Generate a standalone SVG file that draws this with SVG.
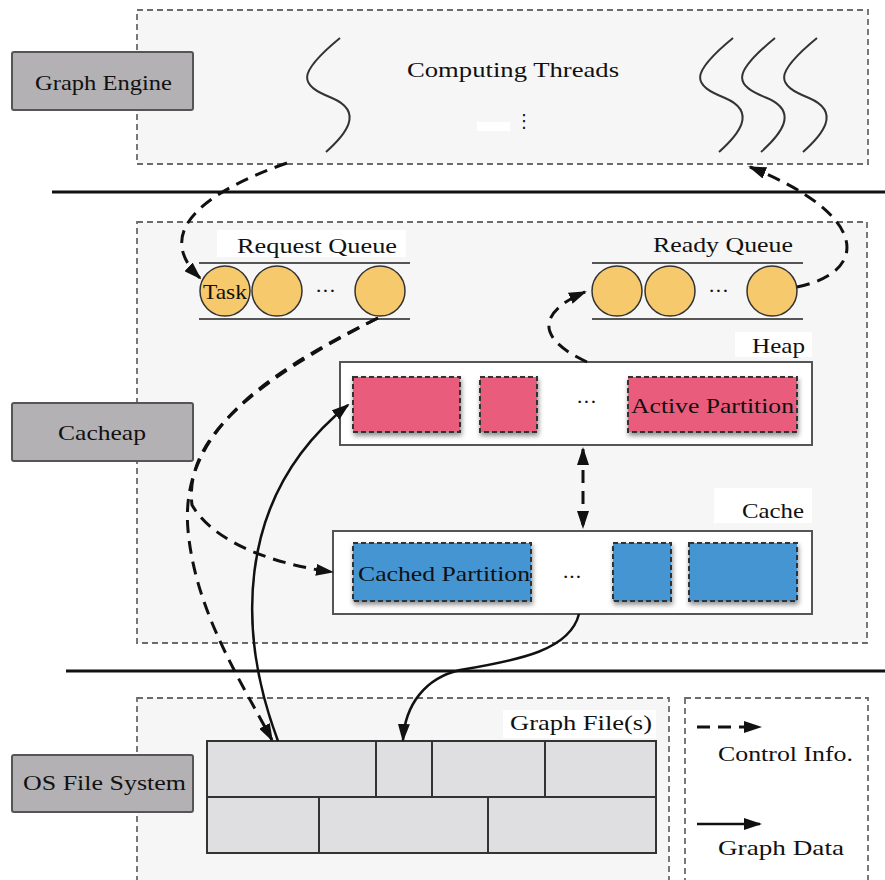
<svg xmlns="http://www.w3.org/2000/svg" width="885" height="880" viewBox="0 0 885 880">
<defs>
<style>
.zone{fill:#f7f6f6;stroke:#6b6b6b;stroke-width:1.8;stroke-dasharray:6 4}
.lbl{fill:#b3b1b3;stroke:#555;stroke-width:2}
.t{font-family:"Liberation Serif",serif;font-size:22px;fill:#111}
.q{stroke:#555;stroke-width:2}
.c{fill:#f6c96c;stroke:#333;stroke-width:1.5}
.box{fill:#fff;stroke:#555;stroke-width:2}
.pk{fill:#e95b7c;stroke:#333;stroke-width:2;stroke-dasharray:5 3}
.bl{fill:#4595d2;stroke:#333;stroke-width:2;stroke-dasharray:5 3}
.br{fill:#dfdfe1;stroke:#333;stroke-width:2}
.thr{fill:none;stroke:#333;stroke-width:2}
.ctl{fill:none;stroke:#111;stroke-width:3;stroke-dasharray:13 8}
.dat{fill:none;stroke:#111;stroke-width:2.5}
.sep{stroke:#111;stroke-width:3}
</style>
<marker id="ah" markerWidth="18" markerHeight="12" refX="16" refY="6" orient="auto-start-reverse" markerUnits="userSpaceOnUse"><path d="M0,0 L18,6 L0,12 Z" fill="#111"/></marker>
<filter id="sh" x="-10%" y="-15%" width="130%" height="150%"><feDropShadow dx="1" dy="3" stdDeviation="2.5" flood-color="#000" flood-opacity="0.45"/></filter>
<path id="thread" d="M 0 0 C -45 37, -40 47, -8 60 C 25 74, 5 97, -14 114" class="thr"/>
</defs>

<rect width="885" height="880" fill="#fff"/>

<g id="graph-engine">
<rect class="zone" x="137" y="10" width="731" height="154"/>
<use href="#thread" x="340" y="38"/>
<use href="#thread" x="733" y="38"/>
<use href="#thread" x="775" y="38"/>
<use href="#thread" x="817" y="38"/>
<text class="t" x="407" y="77" textLength="212" lengthAdjust="spacingAndGlyphs">Computing Threads</text>
<rect x="477" y="122" width="33" height="9" fill="#fff"/>
<text x="524" y="127" font-family="DejaVu Sans,sans-serif" font-size="18" fill="#111" text-anchor="middle">⋮</text>
<rect class="lbl" x="12" y="52" width="181" height="58" rx="2"/>
<text class="t" x="35" y="90" textLength="137" lengthAdjust="spacingAndGlyphs">Graph Engine</text>
</g>

<line class="sep" x1="52" y1="192" x2="885" y2="192"/>
<line class="sep" x1="66" y1="671" x2="885" y2="671"/>

<g id="cacheap">
<rect class="zone" x="137" y="222" width="730" height="421"/>
<rect class="lbl" x="12" y="403" width="181" height="58" rx="2"/>
<text class="t" x="58" y="440" textLength="88" lengthAdjust="spacingAndGlyphs">Cacheap</text>
</g>

<g id="request-queue">
<rect x="217" y="230" width="189" height="27" fill="#fff"/>
<text class="t" x="237" y="253" textLength="160" lengthAdjust="spacingAndGlyphs">Request Queue</text>
<line class="q" x1="199" y1="263" x2="410" y2="263"/>
<line class="q" x1="199" y1="319" x2="410" y2="319"/>
<circle class="c" cx="225" cy="291" r="25"/>
<circle class="c" cx="277" cy="291" r="25"/>
<circle class="c" cx="380" cy="291" r="25"/>
<text class="t" x="315" y="298" textLength="21" lengthAdjust="spacing">···</text>
<text class="t" x="203" y="299" textLength="44" lengthAdjust="spacingAndGlyphs">Task</text>
</g>

<g id="ready-queue">
<text class="t" x="653" y="252" textLength="140" lengthAdjust="spacingAndGlyphs">Ready Queue</text>
<line class="q" x1="592" y1="263" x2="803" y2="263"/>
<line class="q" x1="592" y1="319" x2="803" y2="319"/>
<circle class="c" cx="617" cy="291" r="25"/>
<circle class="c" cx="670" cy="291" r="25"/>
<circle class="c" cx="772" cy="291" r="25"/>
<text class="t" x="708" y="298" textLength="21" lengthAdjust="spacing">···</text>
</g>

<g id="heap">
<rect x="735" y="332" width="77" height="25" fill="#fff"/>
<text class="t" x="752" y="353" textLength="53" lengthAdjust="spacingAndGlyphs">Heap</text>
<rect class="box" x="340" y="362" width="472" height="83"/>
<rect class="pk" x="353" y="377" width="107" height="55" filter="url(#sh)"/>
<rect class="pk" x="480" y="377" width="57" height="55" filter="url(#sh)"/>
<text class="t" x="576" y="409" textLength="21" lengthAdjust="spacing">···</text>
<rect class="pk" x="628" y="377" width="169" height="55" filter="url(#sh)"/>
<text class="t" x="631" y="413" textLength="163" lengthAdjust="spacingAndGlyphs">Active Partition</text>
</g>

<g id="cache">
<rect x="714" y="488" width="98" height="35" fill="#fff"/>
<text class="t" x="742" y="518" textLength="62" lengthAdjust="spacingAndGlyphs">Cache</text>
<rect class="box" x="333" y="531" width="479" height="83"/>
<rect class="bl" x="353" y="543" width="178" height="58" filter="url(#sh)"/>
<text class="t" x="358" y="581" textLength="172" lengthAdjust="spacingAndGlyphs">Cached Partition</text>
<text class="t" x="562" y="584" textLength="20" lengthAdjust="spacing">···</text>
<rect class="bl" x="613" y="543" width="58" height="58" filter="url(#sh)"/>
<rect class="bl" x="689" y="543" width="108" height="58" filter="url(#sh)"/>
</g>

<g id="os-file-system">
<rect class="zone" x="137" y="698" width="532" height="200"/>
<rect x="503" y="710" width="153" height="28" fill="#fff"/>
<text class="t" x="510" y="730" textLength="142" lengthAdjust="spacingAndGlyphs">Graph File(s)</text>
<rect class="br" x="207" y="741" width="449" height="56"/>
<rect class="br" x="207" y="797" width="449" height="56"/>
<line class="br" x1="376" y1="741" x2="376" y2="797"/>
<line class="br" x1="432" y1="741" x2="432" y2="797"/>
<line class="br" x1="545" y1="741" x2="545" y2="797"/>
<line class="br" x1="319" y1="797" x2="319" y2="853"/>
<line class="br" x1="488" y1="797" x2="488" y2="853"/>
<rect class="lbl" x="12" y="755" width="181" height="57" rx="2"/>
<text class="t" x="23" y="790" textLength="163" lengthAdjust="spacingAndGlyphs">OS File System</text>
</g>

<g id="legend">
<rect x="685" y="698" width="183" height="200" fill="#fff" stroke="#6b6b6b" stroke-width="1.8" stroke-dasharray="6 4"/>
<path class="ctl" d="M 697 727 L 760 727" stroke-dasharray="14 8" marker-end="url(#ah)"/>
<text class="t" x="718" y="761" textLength="135" lengthAdjust="spacingAndGlyphs">Control Info.</text>
<path class="dat" d="M 697 824 L 760 824" marker-end="url(#ah)"/>
<text class="t" x="718" y="855" textLength="126" lengthAdjust="spacingAndGlyphs">Graph Data</text>
</g>

<g id="connectors">
<path class="ctl" d="M 287 163 C 210 190, 150 230, 200 278" marker-end="url(#ah)"/>
<path class="ctl" d="M 797 287 C 870 272, 870 215, 750 167" marker-end="url(#ah)"/>
<path class="ctl" d="M 587 362 C 535 338, 538 312, 585 292" marker-end="url(#ah)"/>
<path class="ctl" d="M 583 449 L 583 527" stroke-dasharray="12 7" marker-start="url(#ah)" marker-end="url(#ah)"/>
<path class="ctl" d="M 378 318 C 250 380, 180 440, 188 530 C 195 610, 240 680, 272 740" marker-end="url(#ah)"/>
<path class="ctl" d="M 378 318 C 252 382, 184 440, 192 505 C 215 545, 280 565, 332 572" marker-end="url(#ah)"/>
<path class="dat" d="M 278 741 C 240 640, 230 500, 348 405" marker-end="url(#ah)"/>
<path class="dat" d="M 579 614 C 570 650, 520 660, 460 670 C 425 678, 405 705, 403 740" marker-end="url(#ah)"/>
</g>
</svg>
